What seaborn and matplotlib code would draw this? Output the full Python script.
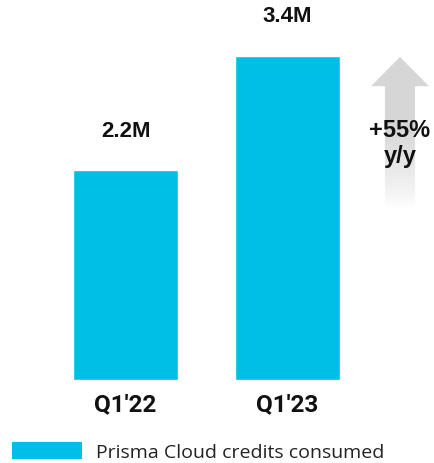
import numpy as np
import matplotlib.pyplot as plt
from matplotlib.patches import Polygon, Patch
import seaborn as sns

# data
quarters = ["Q1'22", "Q1'23"]
credits = [2.2, 3.4]
value_labels = ["2.2M", "3.4M"]
growth_text = "+55%\ny/y"
legend_label = "Prisma Cloud credits consumed"

bar_color = "#00BFE6"

sns.set_style("white")

fig = plt.figure(figsize=(4.34, 4.64), dpi=100)
ax = fig.add_axes([0, 0.1789, 1, 0.8211])

sns.barplot(x=quarters, y=credits, color=bar_color, width=0.65, saturation=1, ax=ax)
ax.set_xlim(-0.775, 1.904)
ax.set_ylim(0, 3.994)
sns.despine(ax=ax, left=True, bottom=True)
ax.set_yticks([])
ax.set_ylabel("")
ax.set_xlabel("")
ax.tick_params(axis="x", length=0, pad=9)
for lab in ax.get_xticklabels():
    lab.set_fontfamily("Roboto")
    lab.set_fontweight("bold")
    lab.set_fontsize(17.5)
    lab.set_color("#111111")

ax.bar_label(ax.containers[0], labels=value_labels, padding=21,
             fontsize=16, fontweight="bold", family="Liberation Sans", color="#111111")

# growth arrow with a fade to white
cx = 1.694
shaft_w = 0.093
head_w = 0.179
tip_y, base_y, bottom_y = 3.386, 3.08, 1.80
arrow = Polygon([(cx - shaft_w, bottom_y), (cx - shaft_w, base_y), (cx - head_w, base_y),
                 (cx, tip_y), (cx + head_w, base_y), (cx + shaft_w, base_y),
                 (cx + shaft_w, bottom_y)], closed=True, facecolor="none", edgecolor="none")
ax.add_patch(arrow)
t = np.linspace(0, 1, 256).reshape(-1, 1)
alpha = np.clip((t - 0.0) / 0.55, 0, 1) ** 0.8
rgba = np.zeros((256, 1, 4))
rgba[..., :3] = 0.84
rgba[..., 3] = alpha
img = ax.imshow(rgba, extent=(cx - head_w, cx + head_w, bottom_y, tip_y),
                origin="lower", aspect="auto", zorder=1)
img.set_clip_path(arrow)

ax.text(cx, 2.49, growth_text, ha="center", va="center", fontsize=17,
        fontweight="bold", family="Liberation Sans", color="#111111",
        linespacing=1.2, zorder=3)

fig.legend(handles=[Patch(facecolor=bar_color, edgecolor="none", label=legend_label)],
           loc="upper left", bbox_to_anchor=(12 / 434, 1 - 443 / 464), frameon=False,
           handlelength=3.6, handleheight=1.0, handletextpad=0.7, borderpad=0,
           borderaxespad=0, prop={"family": "Open Sans", "size": 14}, labelcolor="#222222")

fig.savefig("out.png", dpi=100)
